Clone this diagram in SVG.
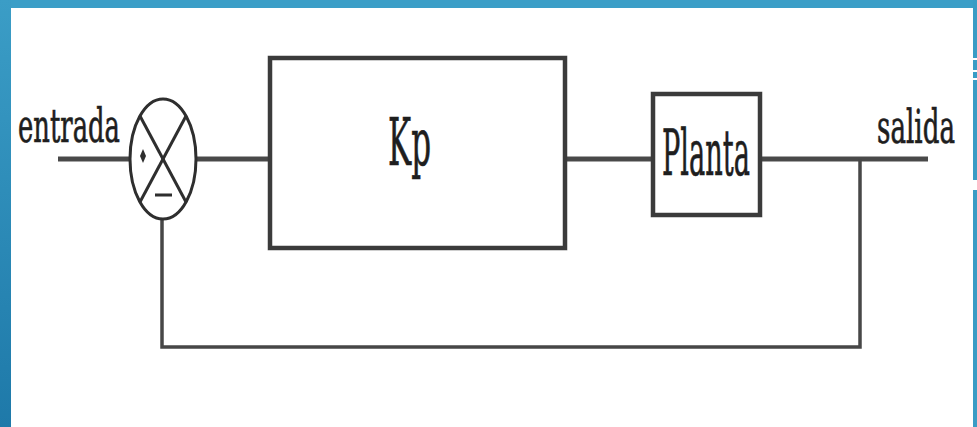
<svg xmlns="http://www.w3.org/2000/svg" width="977" height="427" viewBox="0 0 977 427">
  <defs>
    <linearGradient id="leftBar" x1="0" y1="0" x2="0" y2="1">
      <stop offset="0" stop-color="#3b9dc6"/>
      <stop offset="1" stop-color="#1e79a9"/>
    </linearGradient>
    <filter id="soft" x="-5%" y="-5%" width="110%" height="110%">
      <feGaussianBlur stdDeviation="0.7"/>
    </filter>
  </defs>
  <style>
    .box { fill: #ffffff; stroke: #3a3a3a; stroke-width: 4.5; }
    .wire { fill: none; stroke: #4a4a4a; stroke-width: 5; }
    .fb { fill: none; stroke: #474747; stroke-width: 3.5; }
    .sym { fill: none; stroke: #2e2e2e; stroke-width: 3; }
    .lbl { font-family: "DejaVu Serif", "Liberation Serif", serif; fill: #1e1e1e; stroke: #1e1e1e; stroke-width: 0.7; }
  </style>

  <rect x="0" y="0" width="977" height="427" fill="#ffffff"/>
  <rect x="0" y="0" width="977" height="8" fill="#3b9ec7"/>
  <rect x="0" y="0" width="11" height="427" fill="url(#leftBar)"/>
  <rect x="973" y="0" width="4" height="427" fill="#3a9cc5"/>
  <g fill="#ffffff">
    <rect x="973" y="58" width="4" height="2"/>
    <rect x="973" y="70" width="4" height="2"/>
    <rect x="973" y="78" width="4" height="2"/>
    <rect x="973" y="180" width="4" height="10"/>
  </g>

  <g filter="url(#soft)">
    <g id="connectors">
      <line class="wire" x1="58" y1="159" x2="130" y2="159"/>
      <line class="wire" x1="197" y1="159" x2="270" y2="159"/>
      <line class="wire" x1="565" y1="159" x2="653" y2="159"/>
      <line class="wire" x1="760" y1="159" x2="928" y2="159"/>
      <polyline class="fb" points="860,159 860,347 162,347 162,219"/>
    </g>

    <g id="sum">
      <ellipse class="sym" cx="163" cy="159" rx="33" ry="60"/>
      <line class="sym" x1="140" y1="116" x2="186" y2="202"/>
      <line class="sym" x1="186" y1="116" x2="140" y2="202"/>
      <path d="M143,149 L146,156 L143,163 L140,156 Z" fill="#2e2e2e"/>
      <line class="sym" x1="155" y1="195" x2="172" y2="195" stroke-width="4"/>
    </g>

    <g id="kp">
      <rect class="box" x="270" y="58" width="295" height="190"/>
    </g>

    <g id="planta">
      <rect class="box" x="653" y="94" width="107" height="121"/>
    </g>
  </g>

  <g id="labels">
    <text class="lbl" x="388" y="165" font-size="66" textLength="43" lengthAdjust="spacingAndGlyphs">Kp</text>
    <text class="lbl" x="662" y="175" font-size="64" textLength="88" lengthAdjust="spacingAndGlyphs">Planta</text>
    <text id="entrada" class="lbl" x="18" y="142" font-size="46" textLength="102" lengthAdjust="spacingAndGlyphs">entrada</text>
    <text id="salida" class="lbl" transform="translate(877,143) scale(0.553,1)" x="0" y="0" font-size="46" textLength="141" lengthAdjust="spacingAndGlyphs">salida</text>
  </g>
</svg>
